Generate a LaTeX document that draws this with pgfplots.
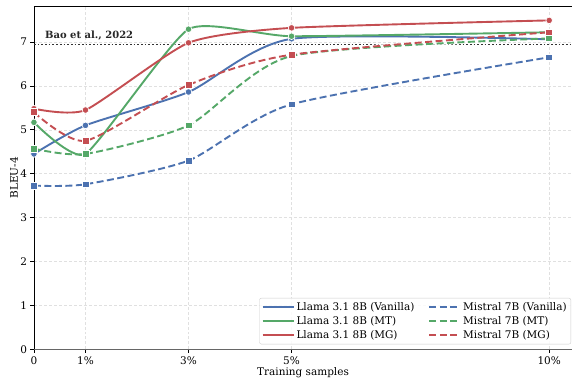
\documentclass[border=0pt]{standalone}
\usepackage{fontspec}
\setmainfont{DejaVu Serif}
\usepackage{pgfplots}
\pgfplotsset{compat=1.18}
\definecolor{cblue}{HTML}{4C72B0}
\definecolor{cgreen}{HTML}{55A868}
\definecolor{cred}{HTML}{C44E52}
\begin{document}
\begin{tikzpicture}
\begin{axis}[
  scale only axis, width=539pt, height=344pt,
  xmin=0, xmax=10.446, ymin=0, ymax=7.818,
  axis x line*=bottom, axis y line*=left,
  x axis line style={black!60, line width=1.3pt, -},
  y axis line style={black, line width=0.9pt, -},
  xtick={0,1,3,5,10}, xticklabels={0,1\%,3\%,5\%,10\%},
  ytick={0,1,2,3,4,5,6,7},
  tick align=outside, major tick length=3.5pt,
  tick style={black, line width=0.7pt},
  /pgf/number format/assume math mode=true,
  ticklabel style={font=\fontsize{10.5}{12}\selectfont},
  grid=major, grid style={dashed, dash pattern=on 3pt off 2pt, black!12, line width=0.6pt},
  xlabel={Training samples}, ylabel={BLEU-4},
  every axis x label/.style={at={(axis description cs:0.5,0)}, yshift=-23pt, anchor=center, font=\fontsize{10.5}{12}\selectfont},
  every axis y label/.style={at={(axis description cs:0,0.5)}, xshift=-20pt, rotate=90, anchor=center, font=\fontsize{10.5}{12}\selectfont},
  legend columns=2,
  legend style={at={(axis description cs:0.998,0.015)}, anchor=south east, draw=black!20, rounded corners=2pt, fill=white, fill opacity=0.85, text opacity=1, font=\fontsize{10.5}{12}\selectfont, row sep=0.6pt, /tikz/every even column/.append style={column sep=12pt}, inner sep=2.2pt},
  legend cell align=left,
  legend image code/.code={\draw[#1, mark=none] (0pt,0pt) -- (31pt,0pt);},
  clip=false,
]
% baseline
\addplot[black!80, dotted, line width=1.7pt, forget plot] coordinates {(0,6.94) (10.446,6.94)};
\node[anchor=west, font=\bfseries\fontsize{10}{11}\selectfont, text=black!85] at (axis cs:0.15,7.15) {Bao et al., 2022};
% halos
\addplot[white, line width=3.6pt, opacity=0.7, smooth, tension=0.4, forget plot] coordinates {(0,4.45) (1,5.10) (3,5.86) (5,7.07) (10,7.06)};
\addplot[white, line width=3.6pt, opacity=0.7, smooth, tension=0.4, forget plot] coordinates {(0,3.73) (1,3.76) (3,4.30) (5,5.58) (10,6.65)};
\addplot[white, line width=3.6pt, opacity=0.7, smooth, tension=0.3, forget plot] coordinates {(0,5.17) (1,4.45) (3,7.29) (5,7.13) (10,7.22)};
\addplot[white, line width=3.6pt, opacity=0.7, smooth, tension=0.4, forget plot] coordinates {(0,4.57) (1,4.45) (3,5.10) (5,6.68) (10,7.08)};
\addplot[white, line width=3.6pt, opacity=0.7, smooth, tension=0.35, forget plot] coordinates {(0,5.48) (1,5.45) (3,6.98) (5,7.32) (10,7.49)};
\addplot[white, line width=3.6pt, opacity=0.7, smooth, tension=0.4, forget plot] coordinates {(0,5.40) (1,4.75) (3,6.02) (5,6.71) (10,7.22)};
% series
\addplot[cblue, line width=1.9pt, smooth, tension=0.4, mark=*, mark size=3.3pt, mark options={solid, fill=cblue, draw=white, line width=0.7pt}] coordinates {(0,4.45) (1,5.10) (3,5.86) (5,7.07) (10,7.06)};
\addlegendentry{Llama 3.1 8B (Vanilla)}
\addplot[cblue, line width=1.9pt, smooth, tension=0.4, dash pattern=on 7pt off 3.5pt, mark=square*, mark size=3.4pt, mark options={solid, fill=cblue, draw=white, line width=0.7pt}] coordinates {(0,3.73) (1,3.76) (3,4.30) (5,5.58) (10,6.65)};
\addlegendentry{Mistral 7B (Vanilla)}
\addplot[cgreen, line width=1.9pt, smooth, tension=0.3, mark=*, mark size=3.3pt, mark options={solid, fill=cgreen, draw=white, line width=0.7pt}] coordinates {(0,5.17) (1,4.45) (3,7.29) (5,7.13) (10,7.22)};
\addlegendentry{Llama 3.1 8B (MT)}
\addplot[cgreen, line width=1.9pt, smooth, tension=0.4, dash pattern=on 7pt off 3.5pt, mark=square*, mark size=3.4pt, mark options={solid, fill=cgreen, draw=white, line width=0.7pt}] coordinates {(0,4.57) (1,4.45) (3,5.10) (5,6.68) (10,7.08)};
\addlegendentry{Mistral 7B (MT)}
\addplot[cred, line width=1.9pt, smooth, tension=0.35, mark=*, mark size=3.3pt, mark options={solid, fill=cred, draw=white, line width=0.7pt}] coordinates {(0,5.48) (1,5.45) (3,6.98) (5,7.32) (10,7.49)};
\addlegendentry{Llama 3.1 8B (MG)}
\addplot[cred, line width=1.9pt, smooth, tension=0.4, dash pattern=on 7pt off 3.5pt, mark=square*, mark size=3.4pt, mark options={solid, fill=cred, draw=white, line width=0.7pt}] coordinates {(0,5.40) (1,4.75) (3,6.02) (5,6.71) (10,7.22)};
\addlegendentry{Mistral 7B (MG)}
\draw[black, line width=0.9pt] (rel axis cs:0,1) -- (rel axis cs:1,1);
\end{axis}
\path ([shift={(-34pt,-30pt)}]current axis.south west) rectangle ([shift={(0pt,6pt)}]current axis.north east);
\end{tikzpicture}
\end{document}
